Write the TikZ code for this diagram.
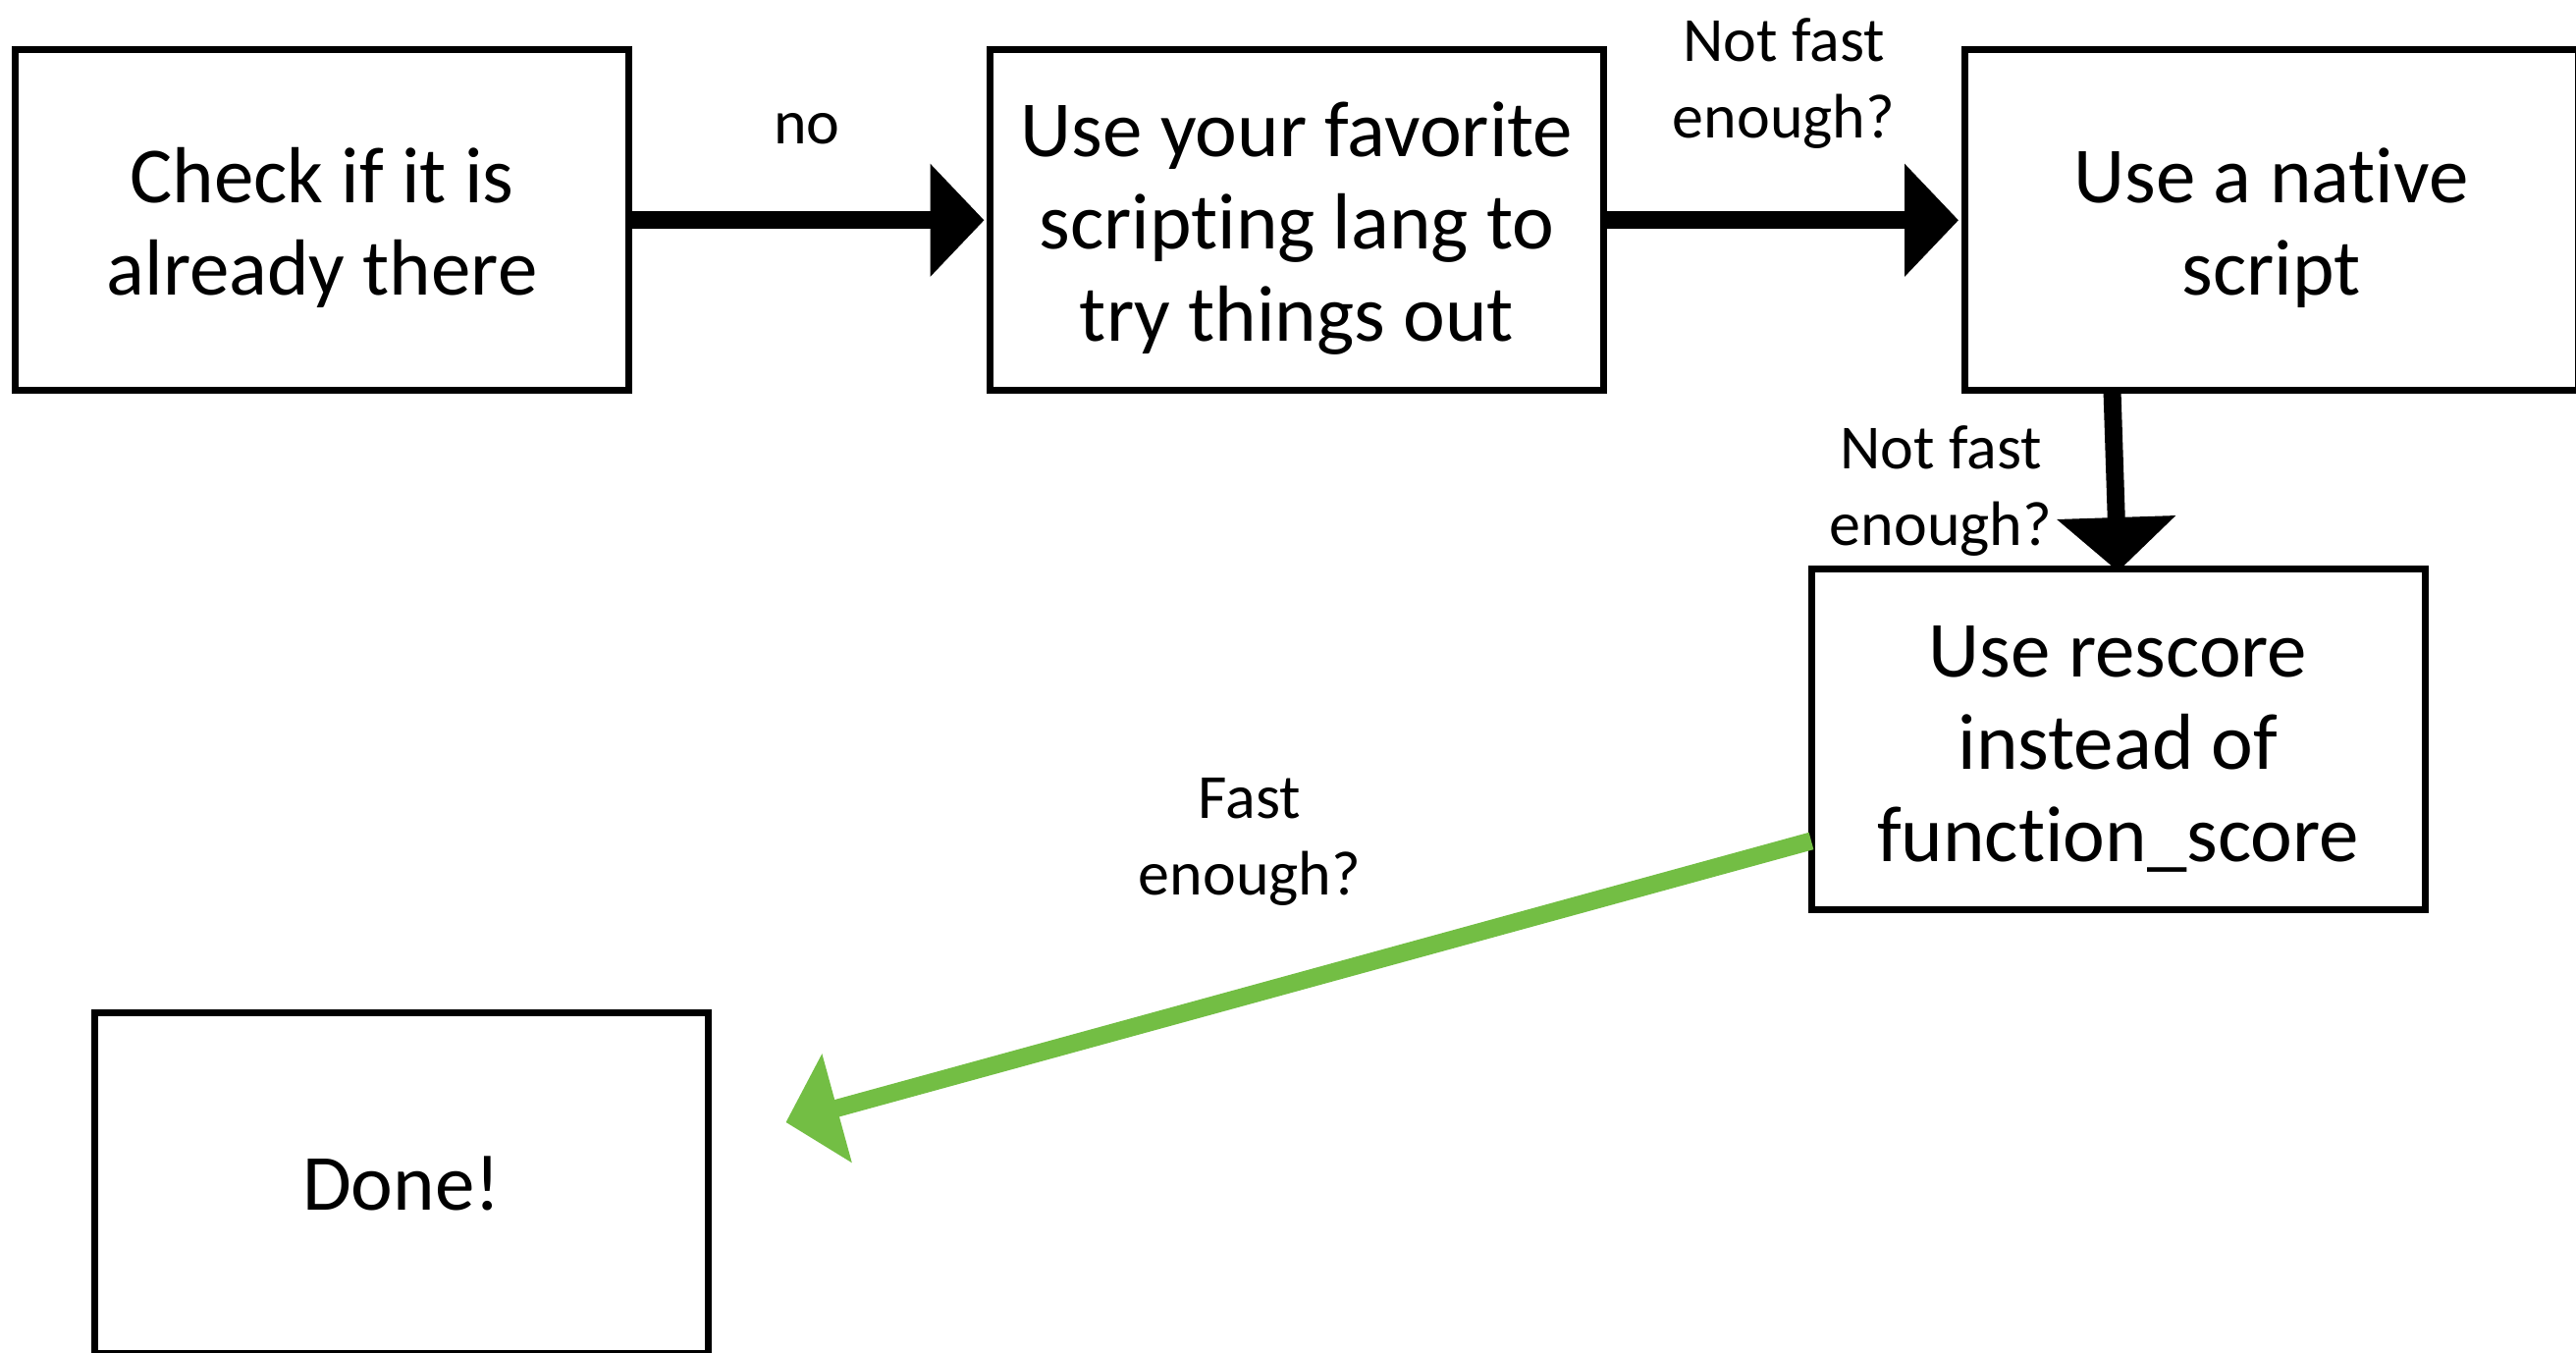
\documentclass[tikz,border=0pt]{standalone}
\usepackage{fontspec}
\setmainfont{Carlito}[Ligatures=NoCommon]
\usetikzlibrary{arrows.meta,calc}
\definecolor{okgreen}{RGB}{115,190,68}
% fixed ascent for the first line of each box text
\newcommand\firstlinestrut{\vrule width 0pt height 72pt depth 0pt}
\begin{document}
\begin{tikzpicture}[x=1pt,y=-1pt,
  stepbox/.style={font=\fontsize{81}{94}\selectfont, draw=black, line width=7pt,
    minimum width=625pt, minimum height=347pt, inner sep=0pt, outer sep=0pt, align=center},
  flowlabel/.style={font=\fontsize{64}{78}\selectfont, align=center, inner sep=0pt},
  flow/.style={line width=18pt, -{Triangle[length=55pt,width=112pt]}},
  goflow/.style={draw=okgreen, line width=18pt, -{Triangle[length=54pt,width=112pt]}},
]
\useasboundingbox (0,0) rectangle (2624,1378);

% process boxes
\node[stepbox] (A) at (328,224.3)    {\firstlinestrut Check if it is\\already there};
\node[stepbox] (B) at (1321,224.3)   {\firstlinestrut Use your favorite\\scripting lang to\\try things out};
\node[stepbox] (C) at (2313.5,224.3) {\firstlinestrut Use a native\\script};
\node[stepbox] (D) at (2157.5,752.5) {\firstlinestrut Use rescore\\instead of\\function\_score};
\node[stepbox] (E) at (409,1205)     {Done!};

% connectors
\coordinate (doneIn) at ([xshift=79pt,yshift=62pt]E.east);
\draw[flow] (A.east) -- ([xshift=-6pt]B.west);
\draw[flow] (B.east) -- ([xshift=-6pt]C.west);
\draw[flow, -{Triangle[length=55pt,width=118pt]}] ($(D.north |- C.south)+(-6,0)$) -- ([yshift=-3pt]D.north);
\draw[goflow] ([yshift=-104pt]D.west) -- (doneIn);

% connector labels
\node[flowlabel] (lno) at (822,131) {no};
\node[flowlabel] (lbc) at (1817,85) {Not fast\\enough?};
\node[flowlabel] (lcd) at (1977,500) {Not fast\\enough?};
\node[flowlabel] (lde) at (1273,857) {Fast\\enough?};
\end{tikzpicture}
\end{document}
